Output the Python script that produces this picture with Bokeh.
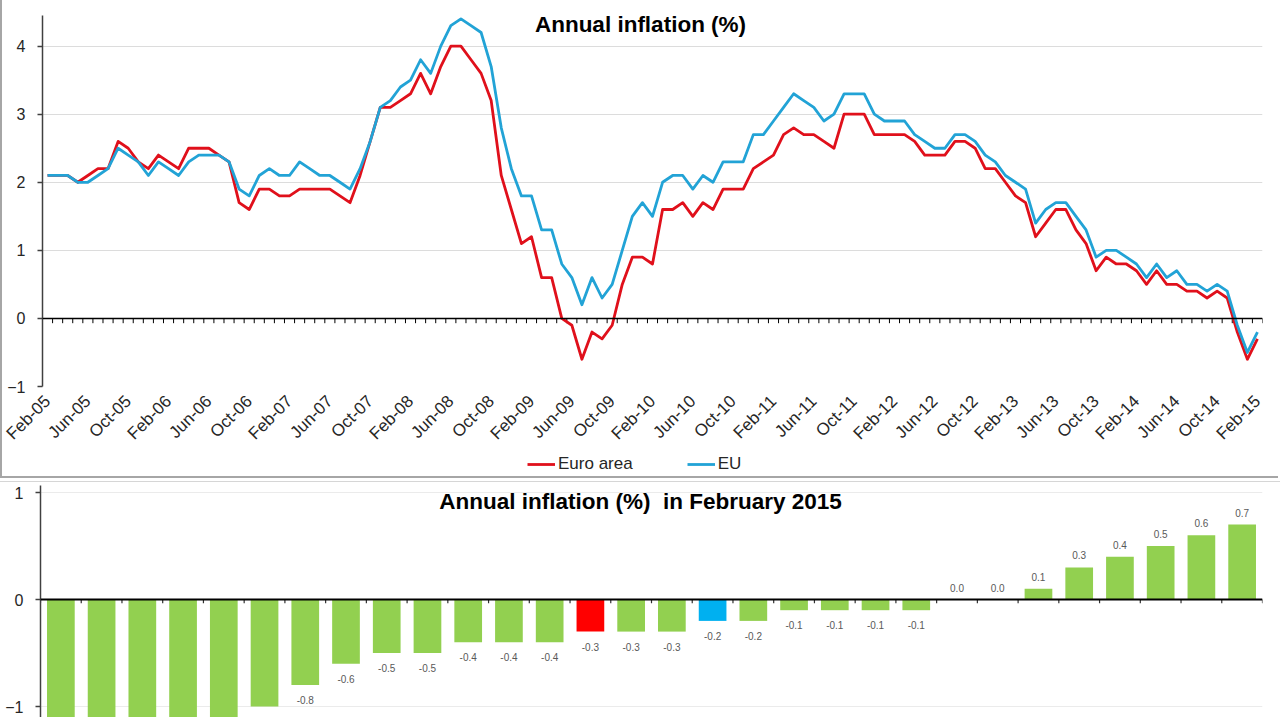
import math

from bokeh.core.properties import value
from bokeh.embed import file_html
from bokeh.layouts import column
from bokeh.models import (ColumnDataSource, FixedTicker, Label, Legend,
                          LegendItem, Range1d, Span)
from bokeh.plotting import figure
from bokeh.resources import INLINE

FONT = "Liberation Sans"
RED = "#E0101B"
BLUE = "#22A3D6"
GREEN = "#92D050"
BAR_RED = "#FF0000"
BAR_BLUE = "#00B0F0"
TEXT = "#262626"
FRAME_GREY = "#A6A6A6"

# Annual HICP inflation (%), monthly from Feb-05 to Feb-15
euro_area = [
    2.1, 2.1, 2.1, 2.0, 2.1, 2.2, 2.2, 2.6, 2.5, 2.3, 2.2,            # 2005
    2.4, 2.3, 2.2, 2.5, 2.5, 2.5, 2.4, 2.3, 1.7, 1.6, 1.9, 1.9,       # 2006
    1.8, 1.8, 1.9, 1.9, 1.9, 1.9, 1.8, 1.7, 2.1, 2.6, 3.1, 3.1,       # 2007
    3.2, 3.3, 3.6, 3.3, 3.7, 4.0, 4.0, 3.8, 3.6, 3.2, 2.1, 1.6,       # 2008
    1.1, 1.2, 0.6, 0.6, 0.0, -0.1, -0.6, -0.2, -0.3, -0.1, 0.5, 0.9,  # 2009
    0.9, 0.8, 1.6, 1.6, 1.7, 1.5, 1.7, 1.6, 1.9, 1.9, 1.9, 2.2,       # 2010
    2.3, 2.4, 2.7, 2.8, 2.7, 2.7, 2.6, 2.5, 3.0, 3.0, 3.0, 2.7,       # 2011
    2.7, 2.7, 2.7, 2.6, 2.4, 2.4, 2.4, 2.6, 2.6, 2.5, 2.2, 2.2,       # 2012
    2.0, 1.8, 1.7, 1.2, 1.4, 1.6, 1.6, 1.3, 1.1, 0.7, 0.9, 0.8,       # 2013
    0.8, 0.7, 0.5, 0.7, 0.5, 0.5, 0.4, 0.4, 0.3, 0.4, 0.3, -0.2,      # 2014
    -0.6, -0.3,                                                       # 2015
]
eu = [
    2.1, 2.1, 2.1, 2.0, 2.0, 2.1, 2.2, 2.5, 2.4, 2.3, 2.1,            # 2005
    2.3, 2.2, 2.1, 2.3, 2.4, 2.4, 2.4, 2.3, 1.9, 1.8, 2.1, 2.2,       # 2006
    2.1, 2.1, 2.3, 2.2, 2.1, 2.1, 2.0, 1.9, 2.2, 2.6, 3.1, 3.2,       # 2007
    3.4, 3.5, 3.8, 3.6, 4.0, 4.3, 4.4, 4.3, 4.2, 3.7, 2.8, 2.2,       # 2008
    1.8, 1.8, 1.3, 1.3, 0.8, 0.6, 0.2, 0.6, 0.3, 0.5, 1.0, 1.5,       # 2009
    1.7, 1.5, 2.0, 2.1, 2.1, 1.9, 2.1, 2.0, 2.3, 2.3, 2.3, 2.7,       # 2010
    2.7, 2.9, 3.1, 3.3, 3.2, 3.1, 2.9, 3.0, 3.3, 3.3, 3.3, 3.0,       # 2011
    2.9, 2.9, 2.9, 2.7, 2.6, 2.5, 2.5, 2.7, 2.7, 2.6, 2.4, 2.3,       # 2012
    2.1, 2.0, 1.9, 1.4, 1.6, 1.7, 1.7, 1.5, 1.3, 0.9, 1.0, 1.0,       # 2013
    0.9, 0.8, 0.6, 0.8, 0.6, 0.7, 0.5, 0.5, 0.4, 0.5, 0.4, -0.1,      # 2014
    -0.5, -0.2,                                                       # 2015
]
month_tick_labels = [
    "Feb-05", "Jun-05", "Oct-05", "Feb-06", "Jun-06", "Oct-06", "Feb-07",
    "Jun-07", "Oct-07", "Feb-08", "Jun-08", "Oct-08", "Feb-09", "Jun-09",
    "Oct-09", "Feb-10", "Jun-10", "Oct-10", "Feb-11", "Jun-11", "Oct-11",
    "Feb-12", "Jun-12", "Oct-12", "Feb-13", "Jun-13", "Oct-13", "Feb-14",
    "Jun-14", "Oct-14", "Feb-15",
]
months_per_tick = 4
y_ticks_top = [-1, 0, 1, 2, 3, 4]
series_names = ["Euro area", "EU"]

# Annual inflation (%) in February 2015, sorted, one bar per economy
feb15_rates = [
    -2.0, -1.9, -1.8, -1.3, -1.2, -1.0, -0.8, -0.6, -0.5, -0.5,
    -0.4, -0.4, -0.4, -0.3, -0.3, -0.3, -0.2, -0.2, -0.1, -0.1,
    -0.1, -0.1, 0.0, 0.0, 0.1, 0.3, 0.4, 0.5, 0.6, 0.7,
]
feb15_kind = (["member"] * 13 + ["euro area"] + ["member"] * 2 + ["eu"]
              + ["member"] * 13)
y_ticks_bottom = [-1, 0, 1]


def style_value_axis(axis, ticks):
    axis.ticker = FixedTicker(ticks=ticks)
    axis.axis_line_color = "#404040"
    axis.axis_line_width = 1.5
    axis.major_tick_line_color = "#404040"
    axis.major_tick_line_width = 1.5
    axis.major_tick_in = 0
    axis.major_tick_out = 5
    axis.minor_tick_line_color = None
    axis.major_label_standoff = 12
    axis.major_label_text_align = "right"
    axis.major_label_text_font = FONT
    axis.major_label_text_font_size = "16px"
    axis.major_label_text_color = TEXT


# ---------------------------------------------------------------- top chart
n_months = len(euro_area)
months = list(range(n_months))
src = ColumnDataSource(dict(m=months, ea=euro_area, eu=eu))
month_range = Range1d(-0.5, n_months - 0.5)

top = figure(
    width=1278, height=455, output_backend="svg", toolbar_location=None,
    x_range=month_range, y_range=Range1d(-1, 4.45),
    min_border_left=40, min_border_right=18, min_border_top=15,
    min_border_bottom=69, outline_line_color=None,
    background_fill_color="white", border_fill_color="white",
)
top.styles = {"border-left": f"2px solid {FRAME_GREY}"}

top.xgrid.visible = False
top.ygrid.ticker = FixedTicker(ticks=y_ticks_top)
top.ygrid.grid_line_color = "#DCDCDC"
top.ygrid.grid_line_width = 1

tick_pos = [i * months_per_tick for i in range(len(month_tick_labels))]
xa = top.xaxis[0]
xa.ticker = FixedTicker(ticks=tick_pos)
xa.major_label_overrides = {p: t for p, t in zip(tick_pos, month_tick_labels)}
xa.major_label_orientation = math.pi / 4
xa.axis_line_color = None
xa.major_tick_line_color = None
xa.major_tick_in = 0
xa.major_tick_out = 0
xa.minor_tick_line_color = None
xa.minor_tick_out = 0
xa.major_label_standoff = 12
xa.major_label_text_font = FONT
xa.major_label_text_font_size = "17px"
xa.major_label_text_color = TEXT

style_value_axis(top.yaxis[0], y_ticks_top)

# zero line with a small tick at every month boundary
top.add_layout(Span(location=0, dimension="width", line_color="black",
                    line_width=1.5))
bounds = [m - 0.5 for m in months] + [n_months - 0.5]
top.segment(x0=bounds, y0=[0] * len(bounds), x1=bounds,
            y1=[-0.07] * len(bounds), line_color="black", line_width=1)

line_style = dict(line_width=2.8, line_join="round")
top.line("m", "ea", source=src, line_color=RED, **line_style)
top.line("m", "eu", source=src, line_color=BLUE, **line_style)

top.add_layout(Label(
    x=598, y=386 - 24, x_units="screen", y_units="screen",
    text="Annual inflation (%)", text_align="center", text_baseline="middle",
    text_font=FONT, text_font_style="bold", text_font_size="22.5px",
    text_color="black",
))

# ---------------------------------------------- legend strip under the chart
# the same two series, on a value range far above the data so that only
# their legend keys show
key = figure(
    width=1278, height=23, output_backend="svg", toolbar_location=None,
    x_range=month_range, y_range=Range1d(100, 101),
    min_border_left=40, min_border_right=18, min_border_top=0,
    min_border_bottom=0, x_axis_location=None, y_axis_location=None,
    outline_line_color=None, background_fill_color="white",
    border_fill_color="white",
)
key.styles = {"border-left": f"2px solid {FRAME_GREY}",
              "border-bottom": f"2px solid {FRAME_GREY}"}
key.grid.visible = False
key_ea = key.line("m", "ea", source=src, line_color=RED, **line_style)
key_eu = key.line("m", "eu", source=src, line_color=BLUE, **line_style)
legend = Legend(
    items=[LegendItem(label=series_names[0], renderers=[key_ea]),
           LegendItem(label=series_names[1], renderers=[key_eu])],
    orientation="horizontal", location=(485, 4),
    glyph_width=28, glyph_height=18, label_height=18, label_standoff=3,
    spacing=54, padding=0, margin=0, label_width=0,
    label_text_font=FONT, label_text_font_size="17px", label_text_color=TEXT,
    border_line_color=None, background_fill_alpha=0,
)
key.add_layout(legend)

# ------------------------------------------------------------- bottom chart
n_bars = len(feb15_rates)
positions = list(range(1, n_bars + 1))
colour_of = {"member": GREEN, "euro area": BAR_RED, "eu": BAR_BLUE}
bar_src = ColumnDataSource(dict(
    x=positions, top=feb15_rates,
    color=[colour_of[k] for k in feb15_kind],
))

# frame spans page y 487..720 with zero at 601
bar_px_per_unit = 107
bot = figure(
    width=1280, height=236, output_backend="svg", toolbar_location=None,
    x_range=Range1d(0.5, n_bars + 0.5),
    y_range=Range1d(-(720 - 601) / bar_px_per_unit, (601 - 487) / bar_px_per_unit),
    min_border_left=40, min_border_right=1, min_border_top=3,
    min_border_bottom=0, x_axis_location=None, outline_line_color=None,
    background_fill_color="white", border_fill_color="white",
)
bot.styles = {"border-top": "1px solid #D6D6D6", "margin-top": "3px"}
bot.xgrid.visible = False
bot.ygrid.ticker = FixedTicker(ticks=[-1, 1])
bot.ygrid.grid_line_color = "#EBEBEB"

style_value_axis(bot.yaxis[0], y_ticks_bottom)

bot.vbar(x="x", top="top", width=0.68, fill_color="color", line_color=None,
         source=bar_src)

bot.add_layout(Span(location=0, dimension="width", line_color="black",
                    line_width=2))
bar_bounds = [p - 0.5 for p in positions] + [n_bars + 0.5]
bot.segment(x0=bar_bounds, y0=[0] * len(bar_bounds), x1=bar_bounds,
            y1=[-0.035] * len(bar_bounds), line_color="#303030", line_width=1.2)

# value labels (only those that fall inside the visible window)
shown = [i for i, v in enumerate(feb15_rates) if v > -0.95]
bot.text(
    x=[positions[i] for i in shown],
    y=[feb15_rates[i] for i in shown],
    text=[f"{feb15_rates[i]:.1f}" for i in shown],
    y_offset=[15 if feb15_rates[i] < 0 else -12 for i in shown],
    text_align="center", text_baseline="middle",
    text_font=value(FONT), text_font_size="10px", text_color="#595959",
)

bot.add_layout(Label(
    x=600, y=720 - 503, x_units="screen", y_units="screen",
    text="Annual inflation (%)\u00a0 in February 2015", text_align="center",
    text_baseline="middle", text_font=FONT, text_font_style="bold",
    text_font_size="22.5px", text_color="black",
))

page = column(top, key, bot, spacing=0)
open("out.html", "w").write(file_html(page, INLINE))
